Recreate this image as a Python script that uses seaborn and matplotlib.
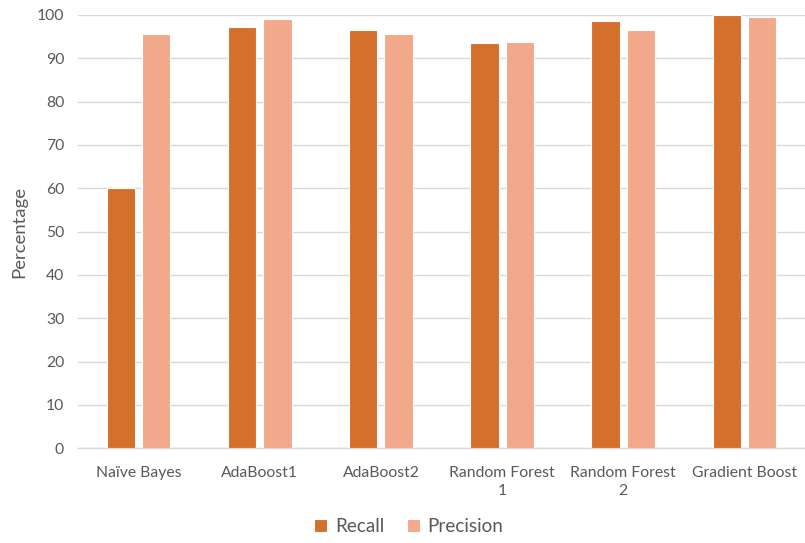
import matplotlib
matplotlib.use("Agg")
import matplotlib.pyplot as plt
import seaborn as sns
import pandas as pd

models = ["Naïve Bayes", "AdaBoost1", "AdaBoost2", "Random Forest\n1", "Random Forest\n2", "Gradient Boost"]
recall = [60.0, 97.3, 96.5, 93.5, 98.5, 100.0]
precision = [95.5, 99.1, 95.7, 93.7, 96.5, 99.5]
series = ["Recall", "Precision"]
colors = ["#D4702C", "#F2A88A"]
yticks = list(range(0, 101, 10))

df = pd.DataFrame({
    "Model": models * 2,
    "Metric": [series[0]] * len(models) + [series[1]] * len(models),
    "Value": recall + precision,
})

sns.set_theme(style="white")
plt.rcParams["font.family"] = ["Lato", "DejaVu Sans"]
text_color = "#595959"

fig = plt.figure(figsize=(8.05, 5.43), dpi=100)
ax = fig.add_axes([0.0969, 0.1744, 0.9031, 0.798])

sns.barplot(data=df, x="Model", y="Value", hue="Metric", order=models,
            hue_order=series, palette=colors, saturation=1, width=0.585, gap=0.2,
            edgecolor="white", linewidth=0.8, ax=ax, zorder=3)

ax.set_ylim(0, 100)
ax.set_xlim(-0.5, len(models) - 0.5)
ax.set_yticks(yticks)
ax.yaxis.grid(True, color="#D9D9D9", linewidth=1.0, zorder=0)
ax.set_axisbelow(True)
for side in ["top", "right", "left"]:
    ax.spines[side].set_visible(False)
ax.spines["bottom"].set_color("#D9D9D9")
ax.spines["bottom"].set_linewidth(1.0)
ax.tick_params(axis="y", length=0, labelsize=11.3, colors=text_color, pad=10)
ax.tick_params(axis="x", length=0, labelsize=11.3, colors=text_color, pad=13)
for lbl in ax.get_xticklabels():
    lbl.set_linespacing(1.35)
ax.set_xlabel("")
ax.set_ylabel("Percentage", fontsize=13.3, color=text_color, labelpad=7)

ax.legend().remove()
handles, labels = ax.get_legend_handles_labels()
fig.legend(handles, labels, loc="center", bbox_to_anchor=(0.508, 0.03), ncol=2,
           frameon=False, fontsize=13.6, handlelength=0.7, handleheight=0.7,
           handletextpad=0.4, columnspacing=1.2, labelcolor=text_color)

fig.savefig("out.png", dpi=100)
